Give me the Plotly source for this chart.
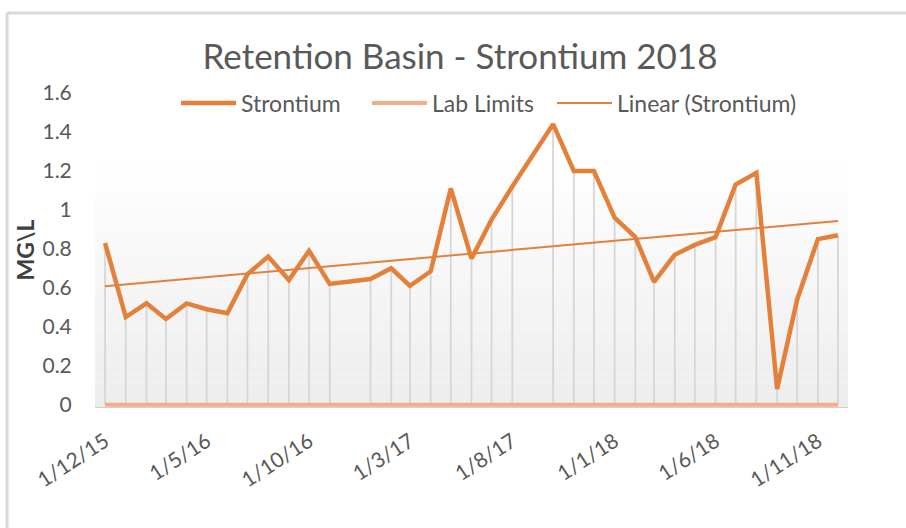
import numpy as np
import pandas as pd
import plotly.graph_objects as go

# ---- data ----
dates = [
    "2015-12-01", "2016-01-01", "2016-02-01", "2016-03-01", "2016-04-01", "2016-05-01",
    "2016-06-01", "2016-07-01", "2016-08-01", "2016-09-01", "2016-10-01", "2016-11-01",
    "2017-01-01", "2017-02-01", "2017-03-01", "2017-04-01", "2017-05-01", "2017-06-01",
    "2017-07-01", "2017-08-01", "2017-10-01", "2017-11-01", "2017-12-01",
    "2018-01-01", "2018-02-01", "2018-03-01", "2018-04-01", "2018-05-01", "2018-06-01",
    "2018-07-01", "2018-08-01", "2018-09-01", "2018-10-01", "2018-11-01", "2018-12-01",
]
strontium = [
    0.83, 0.45, 0.52, 0.44, 0.52, 0.49,
    0.47, 0.67, 0.76, 0.64, 0.79, 0.62,
    0.645, 0.70, 0.61, 0.685, 1.11, 0.75,
    0.95, 1.12, 1.44, 1.20, 1.20,
    0.96, 0.86, 0.63, 0.77, 0.82, 0.86,
    1.13, 1.19, 0.08, 0.54, 0.85, 0.87,
]
lab_limits = [
    0, 0, 0, 0, 0, 0,
    0, 0, 0, 0, 0, 0,
    0, 0, 0, 0, 0, 0,
    0, 0, 0, 0, 0,
    0, 0, 0, 0, 0, 0,
    0, 0, 0, 0, 0, 0,
]
tick_dates = ["2015-12-01", "2016-05-01", "2016-10-01", "2017-03-01",
              "2017-08-01", "2018-01-01", "2018-06-01", "2018-11-01"]
tick_labels = ["1/12/15", "1/5/16", "1/10/16", "1/3/17",
               "1/8/17", "1/1/18", "1/6/18", "1/11/18"]

# ---- linear trendline (least squares on date) ----
t_days = pd.to_datetime(dates).astype("int64").to_numpy() / 8.64e13
slope, intercept = np.polyfit(t_days, np.array(strontium), 1)
trend_x = [dates[0], dates[-1]]
trend_y = [slope * t_days[0] + intercept, slope * t_days[-1] + intercept]

# ---- styles ----
FONT = "Lato"
ORANGE = "#E4803A"
LIGHT_ORANGE = "#F7AC85"
GRAY_TXT = "#595959"

W, H = 906, 528
ML, MR, MT, MB = 95, 58, 93, 121
Y0, Y1 = -0.012, 1.6
pw = W - ML - MR
ph = H - MT - MB


def px_x(p):
    return (p - ML) / pw


def px_y(p):
    return (H - MB - p) / ph


fig = go.Figure()

# drop lines
dx, dy = [], []
for d, v in zip(dates, strontium):
    dx += [d, d, None]
    dy += [0, v, None]
fig.add_trace(go.Scatter(x=dx, y=dy, mode="lines", showlegend=False, hoverinfo="skip",
                         line=dict(color="#d6d6d6", width=1.8)))

fig.add_trace(go.Scatter(x=dates, y=lab_limits, mode="lines", name="Lab Limits",
                         legend="legend2", line=dict(color=LIGHT_ORANGE, width=4)))
fig.add_trace(go.Scatter(x=trend_x, y=trend_y, mode="lines", name="Linear (Strontium)",
                         legend="legend3", line=dict(color=ORANGE, width=2)))
fig.add_trace(go.Scatter(x=dates, y=strontium, mode="lines", name="Strontium",
                         legend="legend", line=dict(color=ORANGE, width=4.5)))

# gradient plot background
shapes = []
n = 40
for i in range(n):
    ya = Y0 + (Y1 - Y0) * i / n
    yb = Y0 + (Y1 - Y0) * (i + 1) / n
    frac = i / (n - 1)
    c = int(round(237 + (255 - 237) * min(1.0, frac * 1.25)))
    shapes.append(dict(type="rect", xref="paper", yref="y", x0=0, x1=1, y0=ya, y1=yb,
                       fillcolor=f"rgb({c},{c},{c})", line=dict(width=0), layer="below"))

# outer chart border (top and left)
shapes.append(dict(type="line", xref="paper", yref="paper",
                   x0=px_x(7), x1=px_x(906), y0=px_y(13), y1=px_y(13),
                   line=dict(color="#d9d9d9", width=3)))
shapes.append(dict(type="line", xref="paper", yref="paper",
                   x0=px_x(7), x1=px_x(7), y0=px_y(13), y1=px_y(528),
                   line=dict(color="#d9d9d9", width=3)))


def legend_at(px_left):
    return dict(orientation="h", x=px_x(px_left), xanchor="left",
                y=px_y(103), yanchor="middle", itemwidth=55,
                font=dict(family=FONT, size=23, color=GRAY_TXT),
                bgcolor="rgba(0,0,0,0)", borderwidth=0)


fig.update_layout(
    width=W, height=H,
    margin=dict(l=ML, r=MR, t=MT, b=MB, autoexpand=False),
    paper_bgcolor="white", plot_bgcolor="white",
    shapes=shapes,
    title=dict(text="Retention Basin - Strontium 2018",
               font=dict(family=FONT, size=35, color=GRAY_TXT),
               xref="container", x=460 / W, xanchor="center",
               yref="container", y=1 - 57 / H, yanchor="middle"),
    legend=legend_at(176),
    legend2=legend_at(367),
    legend3=legend_at(552),
    xaxis=dict(type="date", range=["2015-11-16", "2018-12-16"],
               tickmode="array", tickvals=tick_dates, ticktext=tick_labels,
               tickangle=-33, tickfont=dict(family=FONT, size=21, color=GRAY_TXT),
               showgrid=False, zeroline=False, showline=True, linecolor="#d0d0d0",
               linewidth=1, ticks="outside", ticklen=13, tickcolor="rgba(0,0,0,0)"),
    yaxis=dict(range=[Y0, Y1], tickmode="linear", tick0=0, dtick=0.2,
               tickfont=dict(family=FONT, size=21, color=GRAY_TXT),
               showgrid=False, zeroline=False, showline=False,
               ticks="outside", ticklen=18, tickcolor="rgba(0,0,0,0)",
               title=dict(text="MG\\L", standoff=1,
                          font=dict(family=FONT, size=23, color="#404040", weight="bold"))),
)

fig.write_html("out.html", config={"displayModeBar": False},
               post_script="document.body.style.margin='0px';")
